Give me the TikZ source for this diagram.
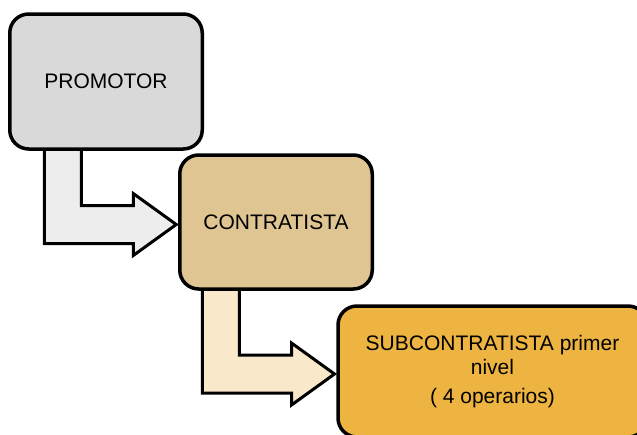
\documentclass[tikz,border=0pt]{standalone}
\usepackage{fontspec}
\setmainfont{Liberation Sans}
\usetikzlibrary{calc,backgrounds}
\definecolor{promogray}{HTML}{D9D9D9}
\definecolor{contratan}{HTML}{DFC591}
\definecolor{subgold}{HTML}{EDB441}
\definecolor{arrowgray}{HTML}{EDEDED}
\definecolor{arrowcream}{HTML}{FAE8CB}
\tikzset{
  level/.style={draw=black,line width=3.5pt,rounded corners=19pt,outer sep=0pt,
    inner sep=0pt,align=center,font=\fontsize{21}{24}\selectfont},
  bentarrow/.style={draw=black,line width=3pt,line join=miter}
}
\begin{document}
\begin{tikzpicture}
  [x=1pt,y=-1pt]
\useasboundingbox (0,0) rectangle (637,434);
\clip (0,0) rectangle (637,434);
\node (promotor)[level,fill=promogray,minimum width=192.5pt,minimum height=135pt] at (106,81.5) {PROMOTOR};
  \node (contratista)[level,fill=contratan,minimum width=192.5pt,minimum height=134pt] at (276,222) {CONTRATISTA};
  \node (sub)[level,fill=subgold,minimum width=309pt,minimum height=131pt] at (492.5,371.5)
    {SUBCONTRATISTA primer\\nivel\\[5pt]( 4 operarios)};

\begin{scope}[on background layer]
 \foreach \from/\to/\off/\col in {promotor/contratista/34.5/arrowgray,contratista/sub/22.5/arrowcream}
    \filldraw[bentarrow,fill=\col]
    let \p1=([xshift=\off pt]\from.south west), \p2=([xshift=-3.5pt,yshift=-2.5pt]\to.west) in
    (\x1,\y1) -- (\x1,{\y2-19pt}) -- ({\x2-43pt},{\y2-19pt}) -- ({\x2-43pt},{\y2-31pt})
    -- (\p2) -- ({\x2-43pt},{\y2+31pt}) -- ({\x2-43pt},{\y2+19pt}) -- ({\x1+37pt},{\y2+19pt})
    -- ({\x1+37pt},\y1);
\end{scope}
\end{tikzpicture}
\end{document}
